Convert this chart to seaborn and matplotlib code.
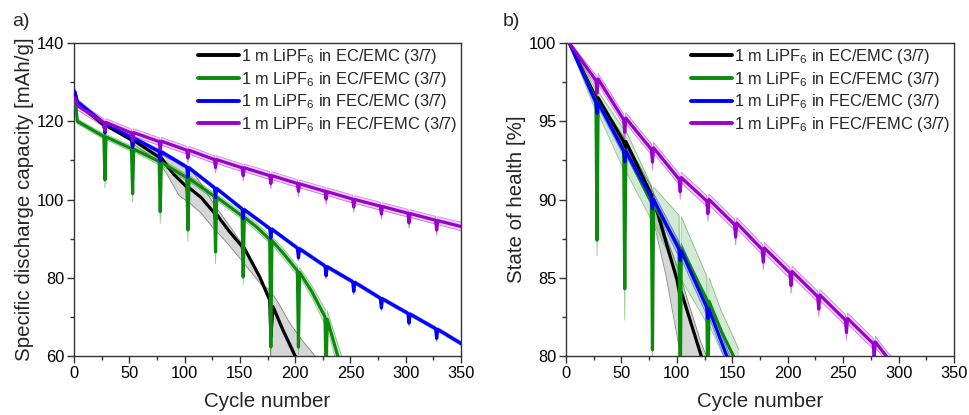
import numpy as np
import pandas as pd
import matplotlib
matplotlib.use("Agg")
import matplotlib.pyplot as plt
import seaborn as sns

# ---------------- data ----------------
labels = ["1 m LiPF$_6$ in EC/EMC (3/7)", "1 m LiPF$_6$ in EC/FEMC (3/7)",
          "1 m LiPF$_6$ in FEC/EMC (3/7)", "1 m LiPF$_6$ in FEC/FEMC (3/7)"]
colors = ["#000000", "#0b8a0b", "#0000ff", "#9a00cc"]

# panel a: specific discharge capacity [mAh/g]
a_black_cyc = [1, 3, 27, 28, 29, 52, 53, 54, 77, 78, 79, 90, 102, 103, 104, 115, 127, 128, 129, 140,
               152, 153, 154, 168, 177, 178, 180, 189, 200, 205]
a_black_val = [127.0, 124.5, 119.0, 117.5, 118.9, 115.2, 113.5, 115.1, 110.8, 108.8, 110.6, 106.5,
               103.2, 101.5, 103.0, 100.5, 96.5, 94.8, 96.2, 92.0, 88.0, 86.3, 87.6, 80.2, 74.3,
               65.0, 72.6, 66.6, 60.0, 57.0]
a_gray_cyc = [52, 77, 85, 95, 105, 115, 125, 135, 150, 160, 170, 177, 178, 185, 195, 205, 218]
a_gray_lo = [114.5, 109.5, 106.0, 101.0, 99.0, 96.5, 93.0, 90.0, 85.0, 81.5, 78.0, 74.0, 55.0,
             55.0, 55.0, 55.0, 55.0]
a_gray_hi = [116.0, 112.0, 110.5, 109.5, 108.0, 104.0, 99.5, 95.5, 89.5, 84.0, 78.5, 76.8, 76.5,
             73.5, 68.5, 64.5, 60.0]

a_green_cyc = [1, 3, 27, 28, 29, 52, 53, 54, 77, 78, 79, 102, 103, 104, 127, 128, 129, 152, 153,
               154, 165, 177, 178, 179, 190, 202, 203, 204, 215, 227, 228, 229, 233, 238, 242]
a_green_val = [126.0, 120.0, 116.1, 105.0, 116.0, 113.0, 101.5, 112.9, 109.7, 96.9, 109.5, 105.6,
               92.2, 105.4, 100.8, 86.6, 100.6, 95.8, 80.2, 95.5, 93.0, 89.8, 62.3, 89.5, 86.0,
               81.8, 62.3, 81.4, 76.5, 70.0, 55.0, 69.4, 65.5, 60.5, 57.0]
a_green_sd = [0.5, 0.6, 0.7, 2.0, 0.7, 0.7, 2.0, 0.7, 0.8, 3.0, 0.8, 0.8, 3.0, 0.8, 0.8, 3.0, 0.8,
              0.9, 2.0, 0.9, 1.0, 1.0, 2.0, 1.0, 1.2, 1.2, 2.0, 1.2, 1.5, 2.0, 2.0, 2.2, 2.5, 3.0, 3.0]

a_blue_cyc = [1, 3, 27, 28, 29, 52, 53, 54, 77, 78, 79, 102, 103, 104, 127, 128, 129, 152, 153,
              154, 177, 178, 179, 202, 203, 204, 227, 228, 229, 252, 253, 254, 277, 278, 279,
              302, 303, 304, 327, 328, 329, 350]
a_blue_val = [127.5, 125.0, 119.5, 117.0, 119.4, 115.8, 113.3, 115.7, 112.3, 109.8, 112.2, 108.3,
              105.8, 108.1, 103.0, 100.5, 102.8, 97.6, 95.1, 97.4, 92.6, 90.1, 92.4, 87.6, 85.1,
              87.4, 83.0, 80.5, 82.8, 79.0, 76.5, 78.8, 74.8, 72.3, 74.6, 70.9, 68.4, 70.7, 67.0,
              64.5, 66.8, 63.2]
a_blue_sd = [0.8, 0.7] + [0.5, 0.8, 0.5] * 13 + [0.5]

a_purple_cyc = [1, 3, 27, 28, 29, 52, 53, 54, 77, 78, 79, 102, 103, 104, 127, 128, 129, 152, 153,
                154, 177, 178, 179, 202, 203, 204, 227, 228, 229, 252, 253, 254, 277, 278, 279,
                302, 303, 304, 327, 328, 329, 350]
a_purple_val = [126.0, 124.0, 119.6, 117.6, 119.7, 117.0, 115.0, 117.1, 114.8, 112.8, 114.9, 112.6,
                110.6, 112.6, 110.2, 108.2, 110.2, 108.1, 106.1, 108.1, 106.1, 104.1, 106.1, 104.1,
                102.1, 104.0, 102.1, 100.1, 102.0, 100.1, 98.1, 100.0, 98.3, 96.3, 98.2, 96.5,
                94.0, 96.4, 94.7, 92.2, 94.6, 93.1]
a_purple_sd = [1.2, 1.1] + [1.0, 1.4, 1.0] * 13 + [1.1]

# panel b: state of health [%]
b_black_cyc = [3, 27, 28, 29, 52, 53, 54, 77, 78, 79, 100, 103, 104, 122, 127]
b_black_val = [100.0, 96.5, 96.0, 96.5, 93.7, 93.2, 93.7, 90.3, 89.6, 90.0, 84.9, 83.8, 84.1,
               80.0, 78.9]
b_gray_cyc = [3, 27, 52, 77, 80, 90, 103, 110, 122, 128]
b_gray_lo = [100.0, 96.3, 93.4, 90.0, 88.3, 85.2, 80.2, 78.5, 76.0, 75.0]
b_gray_hi = [100.0, 96.7, 94.0, 90.8, 90.0, 87.7, 85.2, 83.5, 80.8, 79.8]

b_green_cyc = [3, 27, 28, 29, 52, 53, 54, 77, 78, 79, 102, 103, 104, 127, 128, 129, 140, 151, 156]
b_green_val = [100.0, 96.3, 87.4, 96.2, 93.2, 84.3, 93.1, 89.8, 80.4, 89.7, 87.0, 77.0, 86.9,
               83.6, 77.0, 83.5, 81.6, 80.0, 79.2]
b_green_sd = [0.1, 0.7, 1.0, 0.7, 1.3, 2.0, 1.3, 1.1, 1.0, 1.1, 2.0, 2.0, 2.0, 1.5, 1.5, 1.5,
              1.3, 1.2, 1.2]

b_blue_cyc = [3, 27, 28, 29, 52, 53, 54, 77, 78, 79, 102, 103, 104, 127, 128, 129, 145, 152]
b_blue_val = [100.0, 96.2, 95.5, 96.2, 93.1, 92.4, 93.1, 90.1, 89.4, 90.0, 86.8, 86.1, 86.7,
              83.1, 82.4, 83.0, 80.0, 78.8]
b_blue_sd = [0.1, 0.3, 0.4, 0.3, 0.3, 0.4, 0.3, 0.4, 0.5, 0.4, 0.5, 0.6, 0.5, 0.5, 0.6, 0.5,
             0.5, 0.5]

b_purple_cyc = [3, 27, 28, 29, 52, 53, 54, 77, 78, 79, 102, 103, 104, 127, 128, 129, 152, 153,
                154, 177, 178, 179, 202, 203, 204, 227, 228, 229, 252, 253, 254, 277, 278, 279,
                290, 300]
b_purple_val = [100.0, 97.6, 96.8, 97.7, 95.1, 94.3, 95.2, 93.2, 92.4, 93.3, 91.3, 90.5, 91.4,
                89.9, 89.1, 90.0, 88.4, 87.6, 88.5, 86.8, 86.0, 86.9, 85.3, 84.5, 85.4, 83.8,
                83.0, 83.9, 82.3, 81.5, 82.4, 80.8, 80.0, 80.9, 79.9, 79.2]
b_purple_sd = [0.1] + [0.35, 0.5, 0.35] * 11 + [0.35, 0.35]

# ---------------- style ----------------
sns.set_theme(style="ticks")
plt.rcParams["font.family"] = ["Liberation Sans", "DejaVu Sans"]
plt.rcParams["mathtext.default"] = "regular"
plt.rcParams["axes.edgecolor"] = "#333333"
plt.rcParams["axes.linewidth"] = 1.0

fig = plt.figure(figsize=(9.7, 4.15), dpi=100)
ax_a = fig.add_axes([74 / 970, 1 - 356 / 415, 387 / 970, 313 / 415])
ax_b = fig.add_axes([566 / 970, 1 - 356 / 415, 388 / 970, 313 / 415])


def make_df(cycs, vals):
    frames = []
    for lab, c, v in zip(labels, cycs, vals):
        frames.append(pd.DataFrame({"cycle": c, "value": v, "series": lab}))
    return pd.concat(frames, ignore_index=True)


def draw(ax, cycs, vals, sds, gray):
    # black band (asymmetric)
    gc, glo, ghi = gray
    ax.fill_between(gc, glo, ghi, color="#9a9a9a", alpha=0.4, lw=0, zorder=1)
    ax.plot(gc, glo, color="#555555", lw=0.6, alpha=0.7, zorder=1)
    ax.plot(gc, ghi, color="#555555", lw=0.6, alpha=0.7, zorder=1)
    for col, c, v, s in zip(colors[1:], cycs[1:], vals[1:], sds):
        c = np.asarray(c)
        v = np.asarray(v)
        s = np.asarray(s)
        ax.fill_between(c, v - s, v + s, color=col, alpha=0.18, lw=0, zorder=1)
        ax.plot(c, v - s, color=col, lw=0.6, alpha=0.45, zorder=1)
        ax.plot(c, v + s, color=col, lw=0.6, alpha=0.45, zorder=1)
    df = make_df(cycs, vals)
    sns.lineplot(data=df, x="cycle", y="value", hue="series", hue_order=labels,
                 palette=colors, estimator=None, sort=False, linewidth=2.3, ax=ax,
                 zorder=3)
    handles, labs = ax.get_legend_handles_labels()
    for h in handles:
        h.set_linewidth(2.8)
    ax.legend(handles, labs, loc="upper right", frameon=False, fontsize=11.8,
              handlelength=2.5, handletextpad=0.1, labelspacing=0.22,
              borderaxespad=0.05, borderpad=0.2)


draw(ax_a,
     [a_black_cyc, a_green_cyc, a_blue_cyc, a_purple_cyc],
     [a_black_val, a_green_val, a_blue_val, a_purple_val],
     [a_green_sd, a_blue_sd, a_purple_sd],
     (a_gray_cyc, a_gray_lo, a_gray_hi))
draw(ax_b,
     [b_black_cyc, b_green_cyc, b_blue_cyc, b_purple_cyc],
     [b_black_val, b_green_val, b_blue_val, b_purple_val],
     [b_green_sd, b_blue_sd, b_purple_sd],
     (b_gray_cyc, b_gray_lo, b_gray_hi))

ax_a.set_xlim(0, 350)
ax_a.set_ylim(60, 140)
ax_a.set_yticks([60, 80, 100, 120, 140])
ax_a.set_yticks([70, 90, 110, 130], minor=True)
ax_a.set_ylabel("Specific discharge capacity [mAh/g]", fontsize=14.8, labelpad=2)

ax_b.set_xlim(0, 350)
ax_b.set_ylim(80, 100)
ax_b.set_yticks([80, 85, 90, 95, 100])
ax_b.set_yticks([82.5, 87.5, 92.5, 97.5], minor=True)
ax_b.set_ylabel("State of health [%]", fontsize=14.8, labelpad=2)

for ax in (ax_a, ax_b):
    ax.set_xticks(range(0, 351, 50))
    ax.set_xticks(range(25, 350, 50), minor=True)
    ax.set_xlabel("Cycle number", fontsize=14.8, labelpad=8)
    ax.tick_params(which="major", direction="out", length=5, width=1, labelsize=11.8,
                   colors="#333333", labelcolor="black", pad=2)
    ax.tick_params(which="minor", direction="out", length=3, width=1, colors="#333333")
    for sp in ax.spines.values():
        sp.set_visible(True)
        sp.set_color("#333333")

fig.text(12 / 970, 1 - 13 / 415, "a)", fontsize=14, va="top", ha="left")
fig.text(503 / 970, 1 - 13 / 415, "b)", fontsize=14, va="top", ha="left")

fig.savefig("out.png", dpi=100)
